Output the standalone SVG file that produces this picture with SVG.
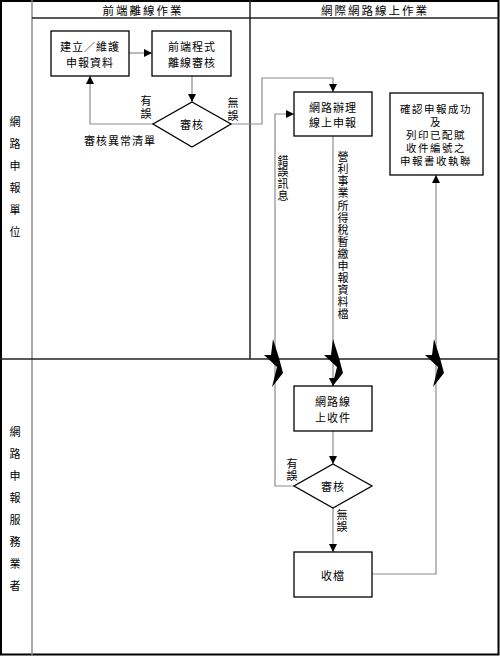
<svg xmlns="http://www.w3.org/2000/svg" width="500" height="657" viewBox="0 0 500 657">
<defs>
<marker id="ah" viewBox="0 0 10 10" refX="10" refY="5" markerWidth="8" markerHeight="8" markerUnits="userSpaceOnUse" orient="auto">
<path d="M0,0 L10,5 L0,10 z" fill="#000"/>
</marker>
<polygon id="bolt" points="-2,339 4,358 8,373 -3,387 2,367 -11,355 -4,355" fill="#000"/>
</defs>
<style>
text{font-family:"Noto Sans CJK TC","Noto Sans CJK SC",sans-serif;font-size:11px;fill:#000;text-anchor:middle;dominant-baseline:central}
.hd{font-size:11.5px;letter-spacing:2px}
.bx{letter-spacing:1px}
.sm{font-size:10.5px;letter-spacing:1.5px}
.vt{writing-mode:vertical-rl;text-orientation:upright;text-anchor:start}
.box{fill:#fff;stroke:#000;stroke-width:1.3}
.con{fill:none;stroke:#8c8c8c;stroke-width:1.2}
.arr{marker-end:url(#ah)}
</style>
<rect width="500" height="657" fill="#fff"/>
<g id="frame">
<rect x="1" y="1" width="497.5" height="653.5" fill="none" stroke="#000" stroke-width="2"/>
<line x1="32" y1="0" x2="32" y2="656" stroke="#8c8c8c" stroke-width="1.5"/>
<line x1="32" y1="18" x2="499" y2="18" stroke="#222" stroke-width="1.5"/>
<line x1="250" y1="0" x2="250" y2="359" stroke="#222" stroke-width="1.5"/>
<line x1="0" y1="359" x2="499" y2="359" stroke="#222" stroke-width="1.5"/>
<text class="hd" x="143" y="10">前端離線作業</text>
<text class="hd" x="375" y="10">網際網路線上作業</text>
<text id="lane1" class="vt" x="15" y="116.5" letter-spacing="11">網路申報單位</text>
<text id="lane2" class="vt" x="15" y="426.5" letter-spacing="11">網路申報服務業者</text>
</g>
<g id="connectors">
<path class="con arr" d="M129,53 H152"/>
<path class="con arr" d="M192,76 V102"/>
<path class="con arr" d="M153,124 H90 V76"/>
<path class="con arr" d="M231,124 H262 V78 H333 V92"/>
<path class="con arr" d="M294,486 H275 V114 H294"/>
<path class="con arr" d="M333,136 V386"/>
<path class="con arr" d="M333,431 V464"/>
<path class="con arr" d="M333,508 V552"/>
<path class="con arr" d="M372,574 H436 V175"/>
<use href="#bolt" x="275"/>
<use href="#bolt" x="335"/>
<use href="#bolt" x="436"/>
<text class="vt" x="146" y="95.5" letter-spacing="2">有誤</text>
<text class="vt" x="233" y="97" letter-spacing="2">無誤</text>
<text class="bx" x="120" y="140">審核異常清單</text>
<text id="lbl-err" class="vt" x="283" y="155" letter-spacing="0.7">錯誤訊息</text>
<text id="lbl-file" class="vt" x="343" y="151.5" letter-spacing="1.1">營利事業所得稅暫繳申報資料檔</text>
<text class="vt" x="292" y="458.5" letter-spacing="1">有誤</text>
<text class="vt" x="342" y="509.5" letter-spacing="1">無誤</text>
</g>
<g id="n-build">
<rect class="box" x="51" y="31" width="78" height="45"/>
<text class="bx" x="90" y="46">建立／維護<tspan x="90" dy="16">申報資料</tspan></text>
</g>
<g id="n-offline">
<rect class="box" x="152" y="31" width="79" height="45"/>
<text class="bx" x="192" y="46">前端程式<tspan x="192" dy="16">離線審核</tspan></text>
</g>
<g id="n-check1">
<polygon class="box" points="192,102 231,124 192,147 153,124"/>
<text class="bx" x="192" y="124">審核</text>
</g>
<g id="n-online">
<rect class="box" x="294" y="92" width="78" height="44"/>
<text class="bx" x="333" y="107">網路辦理<tspan x="333" dy="15">線上申報</tspan></text>
</g>
<g id="n-confirm">
<rect class="box" x="390" y="93" width="93" height="82"/>
<text class="sm" x="436" y="108">確認申報成功<tspan x="436" dy="13">及</tspan><tspan x="436" dy="13">列印已配賦</tspan><tspan x="436" dy="13">收件編號之</tspan><tspan x="436" dy="13">申報書收執聯</tspan></text>
</g>
<g id="n-receive">
<rect class="box" x="294" y="386" width="78" height="45"/>
<text class="bx" x="333" y="401">網路線<tspan x="333" dy="16">上收件</tspan></text>
</g>
<g id="n-check2">
<polygon class="box" points="333,464 372,486 333,508 294,486"/>
<text class="bx" x="333" y="486">審核</text>
</g>
<g id="n-store">
<rect class="box" x="294" y="552" width="78" height="45"/>
<text class="bx" x="333" y="575">收檔</text>
</g>
</svg>
